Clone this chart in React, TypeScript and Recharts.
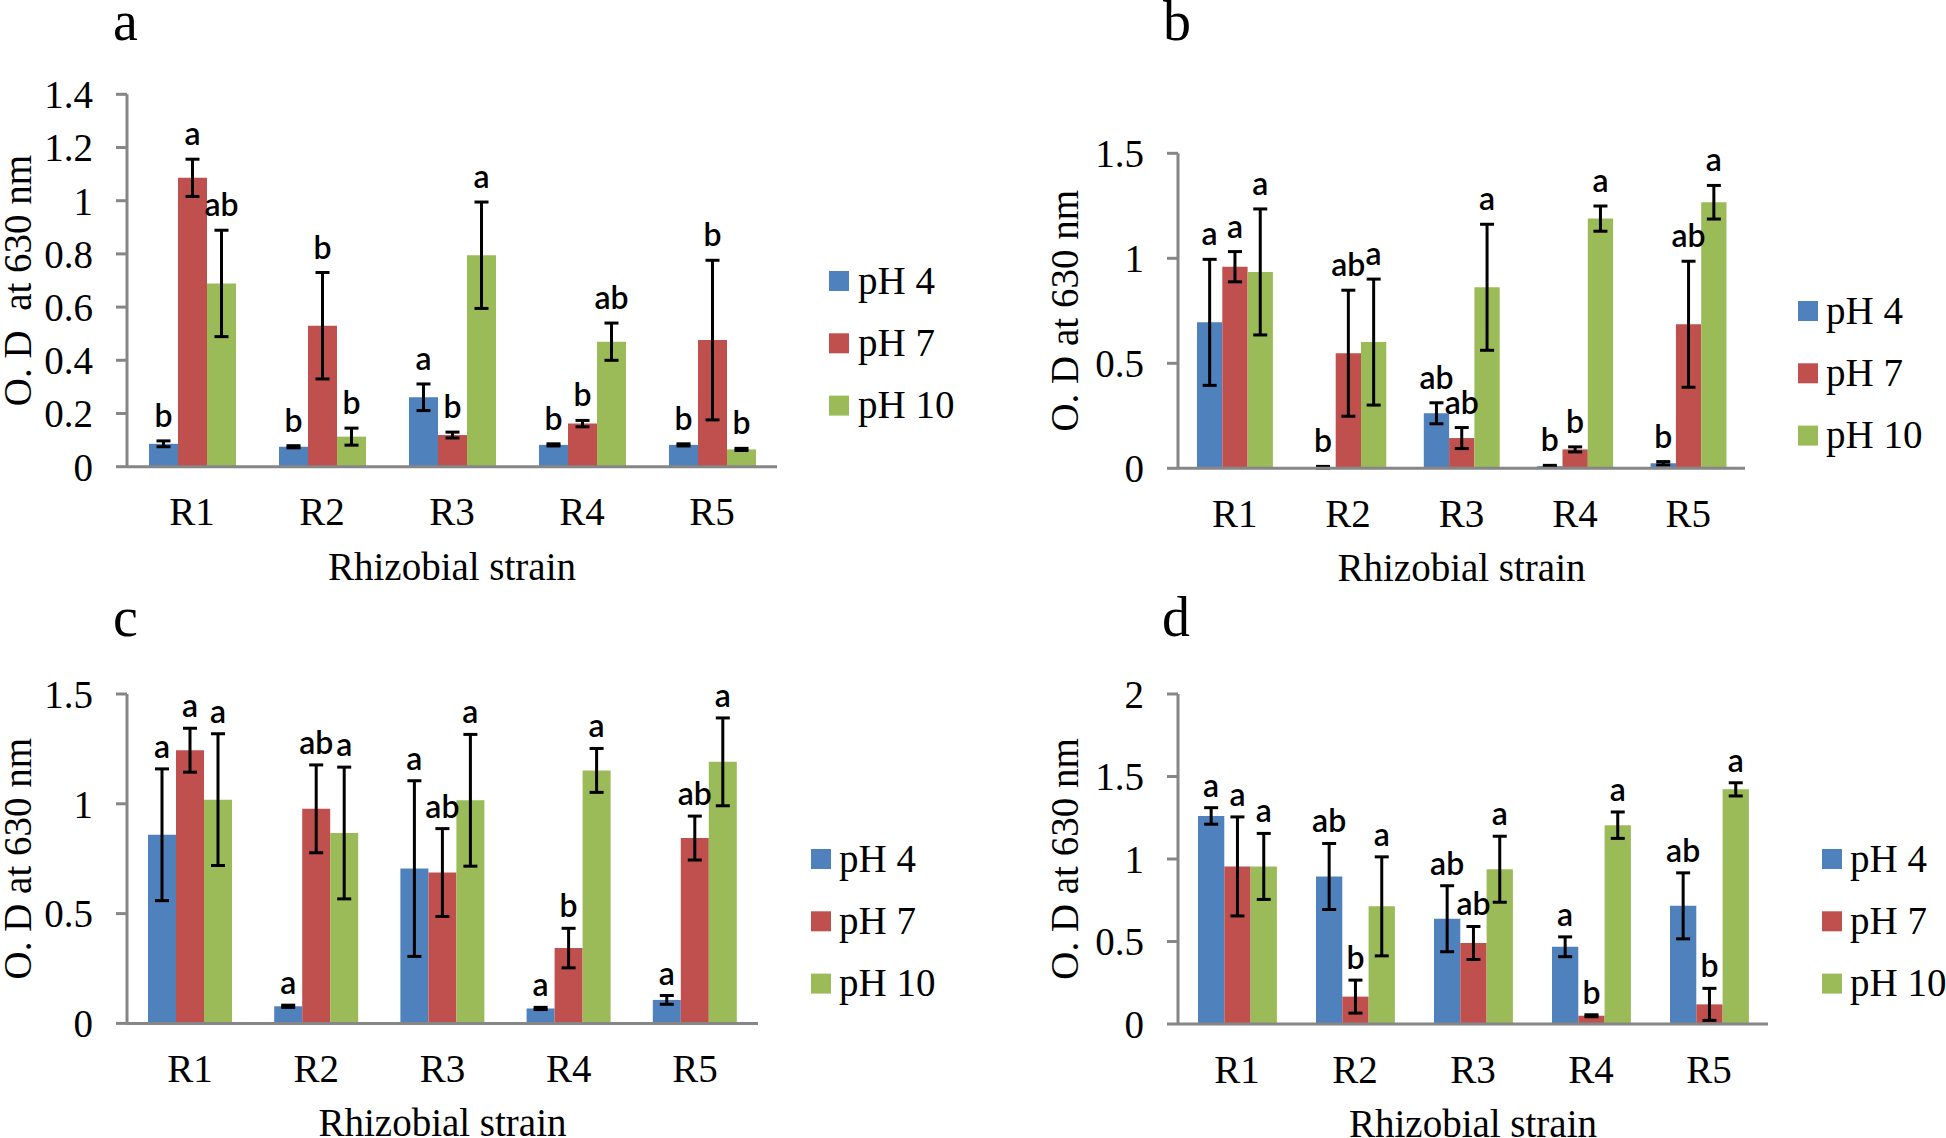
import { Bar, BarChart, ErrorBar, LabelList, Legend, XAxis, YAxis } from "recharts";

const strains = ["R1", "R2", "R3", "R4", "R5"];
const seriesNames = ["pH 4", "pH 7", "pH 10"];
const seriesColors = ["#4f81bd", "#c0504d", "#9bbb59"];

// panel a
const aPH4 = [0.086, 0.075, 0.261, 0.082, 0.082];
const aPH4Err = [0.011, 0.004, 0.05, 0.004, 0.004];
const aPH7 = [1.086, 0.53, 0.119, 0.162, 0.476];
const aPH7Err = [0.07, 0.2, 0.011, 0.012, 0.3];
const aPH10 = [0.689, 0.113, 0.795, 0.47, 0.065];
const aPH10Err = [0.2, 0.032, 0.2, 0.07, 0.004];
const aLetters4 = ["b", "b", "a", "b", "b"];
const aLetters7 = ["a", "b", "b", "b", "b"];
const aLetters10 = ["ab", "b", "a", "ab", "b"];
const aTicks = [0, 0.2, 0.4, 0.6, 0.8, 1, 1.2, 1.4];

// panel b
const bPH4 = [0.695, 0.005, 0.262, 0.01, 0.024];
const bPH4Err = [0.3, 0.004, 0.05, 0.004, 0.008];
const bPH7 = [0.96, 0.548, 0.144, 0.09, 0.686];
const bPH7Err = [0.072, 0.3, 0.05, 0.012, 0.3];
const bPH10 = [0.935, 0.601, 0.862, 1.189, 1.267];
const bPH10Err = [0.3, 0.3, 0.3, 0.06, 0.08];
const bLetters4 = ["a", "b", "ab", "b", "b"];
const bLetters7 = ["a", "ab", "ab", "b", "ab"];
const bLetters10 = ["a", "a", "a", "a", "a"];
const bTicks = [0, 0.5, 1, 1.5];

// panel c
const cPH4 = [0.859, 0.078, 0.705, 0.068, 0.107];
const cPH4Err = [0.3, 0.005, 0.4, 0.005, 0.02];
const cPH7 = [1.244, 0.977, 0.687, 0.343, 0.844];
const cPH7Err = [0.1, 0.2, 0.2, 0.09, 0.1];
const cPH10 = [1.019, 0.867, 1.016, 1.152, 1.191];
const cPH10Err = [0.3, 0.3, 0.3, 0.1, 0.2];
const cLetters4 = ["a", "a", "a", "a", "a"];
const cLetters7 = ["a", "ab", "ab", "b", "ab"];
const cLetters10 = ["a", "a", "a", "a", "a"];
const cTicks = [0, 0.5, 1, 1.5];

// panel d
const dPH4 = [1.261, 0.894, 0.638, 0.468, 0.716];
const dPH4Err = [0.05, 0.2, 0.2, 0.06, 0.2];
const dPH7 = [0.955, 0.166, 0.491, 0.05, 0.119];
const dPH7Err = [0.3, 0.1, 0.1, 0.006, 0.097];
const dPH10 = [0.955, 0.713, 0.938, 1.205, 1.422];
const dPH10Err = [0.2, 0.3, 0.2, 0.08, 0.04];
const dLetters4 = ["a", "ab", "ab", "a", "ab"];
const dLetters7 = ["a", "b", "ab", "b", "b"];
const dLetters10 = ["a", "a", "a", "a", "a"];
const dTicks = [0, 0.5, 1, 1.5, 2];

const SERIF = "'Liberation Serif', 'Times New Roman', serif";
const SANS = "Lato, 'Liberation Sans', sans-serif";
const AXIS_GREY = "#868686";

type Row = Record<string, string | number>;

function buildRows(
  v4: number[], e4: number[], l4: string[],
  v7: number[], e7: number[], l7: string[],
  v10: number[], e10: number[], l10: string[]
): Row[] {
  return strains.map((s, i) => ({
    strain: s,
    p4: v4[i], e4: e4[i], l4: l4[i],
    p7: v7[i], e7: e7[i], l7: l7[i],
    p10: v10[i], e10: e10[i], l10: l10[i],
  }));
}

type Box = { left: number; top: number; w: number; h: number };
type Plot = { left: number; top: number; right: number; bottom: number };

type PanelProps = {
  box: Box;
  plot: Plot;
  ticks: number[];
  rows: Row[];
  barSize: number;
  yTitle: string;
  yTitleX: number;
  legendSquareX: number;
  legendTextX: number;
  legendFirstY: number;
  gap: number;
};

const seriesKeys = [
  ["p4", "e4", "l4"],
  ["p7", "e7", "l7"],
  ["p10", "e10", "l10"],
];

function Panel(p: PanelProps) {
  const { box, plot, ticks, rows } = p;
  const max = ticks[ticks.length - 1];
  const plotW = plot.right - plot.left;
  const plotH = plot.bottom - plot.top;
  const marginTop = plot.top - box.top;
  const yWidth = plot.left - box.left;
  const marginRight = box.left + box.w - plot.right;
  const xHeight = box.top + box.h - plot.bottom;
  const ppu = plotH / max;

  // significance letters sit just above the top of each error bar
  const letterRenderer = (errKey: string, lblKey: string) => (props: any) => {
    const vb = props.viewBox && typeof props.viewBox.x === "number" ? props.viewBox : props;
    const row = rows[props.index];
    if (!row) return null;
    const cx = Number(vb.x) + Number(vb.width) / 2;
    const errTop = Number(vb.y) - Number(row[errKey]) * ppu;
    return (
      <text
        x={cx}
        y={errTop - p.gap}
        textAnchor="middle"
        fontFamily={SANS}
        fontSize={32}
        fontWeight={600}
        fill="#000"
      >
        {row[lblKey]}
      </text>
    );
  };

  const legendContent = () => (
    <svg width={220} height={190} style={{ overflow: "visible" }}>
      {seriesNames.map((name, i) => {
        const cy = 31 + i * 62.3;
        return (
          <g key={name}>
            <rect x={0} y={cy - 10} width={20} height={20} fill={seriesColors[i]} />
            <text
              x={p.legendTextX - p.legendSquareX}
              y={cy + 12.5}
              fontFamily={SERIF}
              fontSize={39}
              fill="#000"
            >
              {name}
            </text>
          </g>
        );
      })}
    </svg>
  );

  return (
    <div style={{ position: "absolute", left: box.left, top: box.top, width: box.w, height: box.h }}>
      <BarChart
        width={box.w}
        height={box.h}
        data={rows}
        margin={{ top: marginTop, right: marginRight, bottom: 0, left: 0 }}
        barGap={0}
      >
        <XAxis
          dataKey="strain"
          height={xHeight}
          interval={0}
          tickLine={false}
          tickSize={0}
          tickMargin={31}
          axisLine={{ stroke: AXIS_GREY, strokeWidth: 3 }}
          tick={{ fill: "#000", fontSize: 39, fontFamily: SERIF }}
          label={() => (
            <text
              x={yWidth + plotW / 2}
              y={marginTop + plotH + 113}
              textAnchor="middle"
              fontFamily={SERIF}
              fontSize={39}
              fill="#000"
            >
              Rhizobial strain
            </text>
          )}
        />
        <YAxis
          width={yWidth}
          domain={[0, max]}
          ticks={ticks}
          interval={0}
          tickSize={11}
          tickMargin={23}
          tickFormatter={(v: number) => String(v)}
          axisLine={{ stroke: AXIS_GREY, strokeWidth: 3 }}
          tickLine={{ stroke: AXIS_GREY, strokeWidth: 3 }}
          tick={{ fill: "#000", fontSize: 39, fontFamily: SERIF }}
          label={() => {
            const cy = marginTop + plotH / 2;
            return (
              <text
                x={p.yTitleX}
                y={cy}
                transform={`rotate(-90, ${p.yTitleX}, ${cy})`}
                textAnchor="middle"
                fontFamily={SERIF}
                fontSize={39}
                fill="#000"
                style={{ whiteSpace: "pre" }}
              >
                {p.yTitle}
              </text>
            );
          }}
        />
        <Legend
          layout="vertical"
          align="center"
          verticalAlign="middle"
          wrapperStyle={{
            left: p.legendSquareX - box.left,
            top: p.legendFirstY - 31 - box.top,
            width: 220,
            height: 190,
          }}
          content={legendContent}
        />
        {seriesKeys.map(([vk, ek, lk], i) => (
          <Bar
            key={vk}
            dataKey={vk}
            name={seriesNames[i]}
            fill={seriesColors[i]}
            barSize={p.barSize}
            isAnimationActive={false}
          >
            <ErrorBar
              dataKey={ek}
              width={7}
              strokeWidth={3}
              stroke="#000"
              direction="y"
              isAnimationActive={false}
            />
            <LabelList dataKey={lk} content={letterRenderer(ek, lk)} />
          </Bar>
        ))}
      </BarChart>
    </div>
  );
}

const panelLetters = [
  { t: "a", x: 113, y: 40 },
  { t: "b", x: 1163, y: 40 },
  { t: "c", x: 113, y: 636 },
  { t: "d", x: 1162, y: 636 },
];

export default function App() {
  return (
    <div
      style={{
        position: "absolute",
        left: 0,
        top: 0,
        width: 1946,
        height: 1138,
        overflow: "hidden",
        background: "#fff",
      }}
    >
      <Panel
        box={{ left: 0, top: 0, w: 973, h: 600 }}
        plot={{ left: 127, top: 94.3, right: 777, bottom: 466.7 }}
        ticks={aTicks}
        rows={buildRows(aPH4, aPH4Err, aLetters4, aPH7, aPH7Err, aLetters7, aPH10, aPH10Err, aLetters10)}
        barSize={29}
        yTitle="O. D  at 630 nm"
        yTitleX={31}
        legendSquareX={829}
        legendTextX={858}
        legendFirstY={281}
        gap={14}
      />
      <Panel
        box={{ left: 973, top: 0, w: 973, h: 600 }}
        plot={{ left: 1178, top: 153.3, right: 1745, bottom: 468.3 }}
        ticks={bTicks}
        rows={buildRows(bPH4, bPH4Err, bLetters4, bPH7, bPH7Err, bLetters7, bPH10, bPH10Err, bLetters10)}
        barSize={25.3}
        yTitle="O. D at 630 nm"
        yTitleX={105}
        legendSquareX={1798}
        legendTextX={1826}
        legendFirstY={310.7}
        gap={14}
      />
      <Panel
        box={{ left: 0, top: 600, w: 973, h: 538 }}
        plot={{ left: 127, top: 694, right: 758, bottom: 1023.4 }}
        ticks={cTicks}
        rows={buildRows(cPH4, cPH4Err, cLetters4, cPH7, cPH7Err, cLetters7, cPH10, cPH10Err, cLetters10)}
        barSize={28}
        yTitle="O. D at 630 nm"
        yTitleX={31}
        legendSquareX={811}
        legendTextX={839}
        legendFirstY={858.6}
        gap={11}
      />
      <Panel
        box={{ left: 973, top: 600, w: 973, h: 538 }}
        plot={{ left: 1178, top: 694, right: 1768, bottom: 1024 }}
        ticks={dTicks}
        rows={buildRows(dPH4, dPH4Err, dLetters4, dPH7, dPH7Err, dLetters7, dPH10, dPH10Err, dLetters10)}
        barSize={26.3}
        yTitle="O. D at 630 nm"
        yTitleX={105}
        legendSquareX={1822}
        legendTextX={1850}
        legendFirstY={858.6}
        gap={11}
      />
      <svg
        width={1946}
        height={1138}
        style={{ position: "absolute", left: 0, top: 0, pointerEvents: "none" }}
      >
        {panelLetters.map((l) => (
          <text key={l.t} x={l.x} y={l.y} fontFamily={SERIF} fontSize={56} fill="#000">
            {l.t}
          </text>
        ))}
      </svg>
    </div>
  );
}
